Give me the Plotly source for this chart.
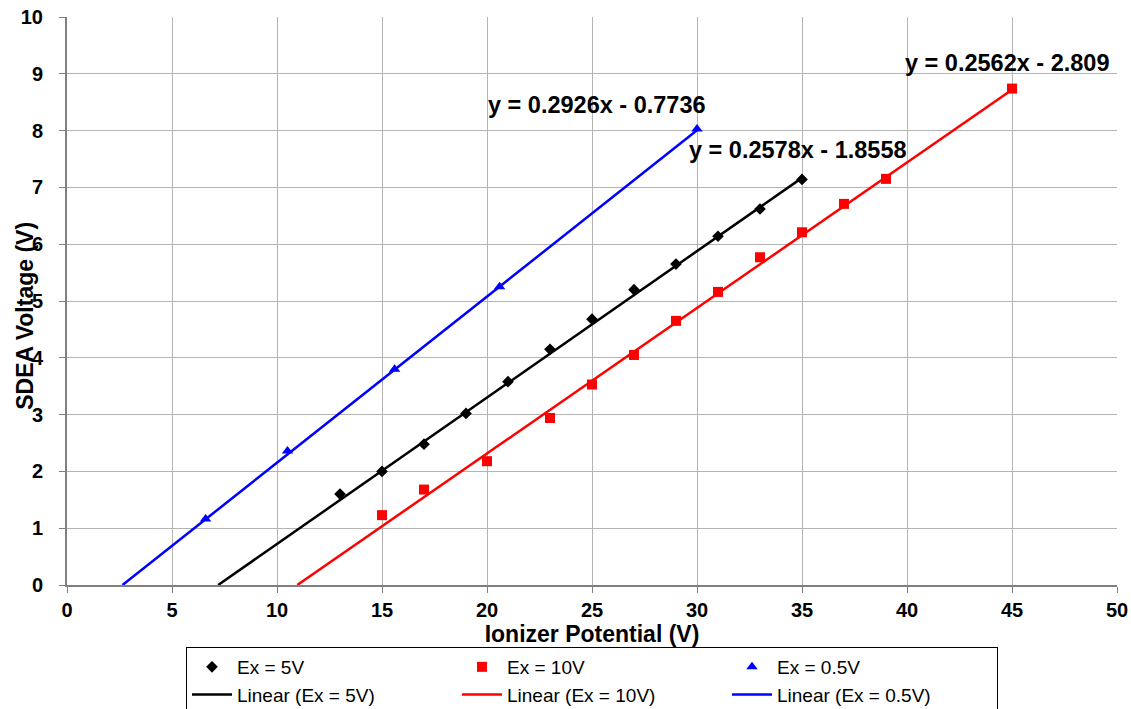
import plotly.graph_objects as go

# Data
x_5v = [13, 15, 17, 19, 21, 23, 25, 27, 29, 31, 33, 35]
y_5v = [1.6, 2.0, 2.48, 3.02, 3.58, 4.15, 4.68, 5.2, 5.65, 6.14, 6.62, 7.14]

x_10v = [15, 17, 20, 23, 25, 27, 29, 31, 33, 35, 37, 39, 45]
y_10v = [1.23, 1.68, 2.18, 2.94, 3.53, 4.05, 4.65, 5.16, 5.77, 6.21, 6.71, 7.15, 8.74]

x_05v = [6.6, 10.5, 15.6, 20.6, 30.0]
y_05v = [1.16, 2.36, 3.8, 5.25, 8.03]

# Trendline coefficients (as printed)
fit_5v = (0.2578, -1.8558)
fit_10v = (0.2562, -2.809)
fit_05v = (0.2926, -0.7736)

eq_labels = ["y = 0.2926x - 0.7736", "y = 0.2578x - 1.8558", "y = 0.2562x - 2.809"]

FONT = "Liberation Sans, Arial, sans-serif"


def trend(fit, xmax):
    m, b = fit
    x0 = -b / m
    return [x0, xmax], [m * x0 + b, m * xmax + b]


fig = go.Figure()
fig.add_trace(go.Scatter(x=x_5v, y=y_5v, mode="markers", name="Ex = 5V",
                         marker=dict(symbol="diamond", size=9, color="black")))
fig.add_trace(go.Scatter(x=x_10v, y=y_10v, mode="markers", name="Ex = 10V",
                         marker=dict(symbol="square", size=10, color="#ff0000")))
fig.add_trace(go.Scatter(x=x_05v, y=y_05v, mode="markers", name="Ex = 0.5V",
                         marker=dict(symbol="triangle-up", size=10, color="#0000ff")))

tx, ty = trend(fit_5v, max(x_5v))
fig.add_trace(go.Scatter(x=tx, y=ty, mode="lines", name="Linear (Ex = 5V)",
                         line=dict(color="black", width=2.5)))
tx, ty = trend(fit_10v, max(x_10v))
fig.add_trace(go.Scatter(x=tx, y=ty, mode="lines", name="Linear (Ex = 10V)",
                         line=dict(color="#ff0000", width=2.5)))
tx, ty = trend(fit_05v, max(x_05v))
fig.add_trace(go.Scatter(x=tx, y=ty, mode="lines", name="Linear (Ex = 0.5V)",
                         line=dict(color="#0000ff", width=2.5)))

ann_pos = [(25.24, 8.45), (34.8, 7.66), (44.8, 9.19)]
for txt, (ax, ay) in zip(eq_labels, ann_pos):
    fig.add_annotation(x=ax, y=ay, text=txt, showarrow=False,
                       font=dict(family=FONT, size=23.5, color="black", weight="bold"))

# y-axis title (placed to overlap tick labels as in the original)
fig.add_annotation(xref="paper", yref="paper", x=0, y=0.474, xshift=-42,
                   xanchor="center", yanchor="middle",
                   text="SDEA Voltage (V)", textangle=-90, showarrow=False,
                   font=dict(family=FONT, size=23, color="black", weight="bold"))

fig.update_layout(
    width=1131, height=709,
    margin=dict(l=67, r=14, t=17, b=124, autoexpand=False),
    plot_bgcolor="white", paper_bgcolor="white",
    font=dict(family=FONT, color="black"),
    showlegend=True,
    legend=dict(orientation="h", x=0.5, xanchor="center", yref="container",
                y=1 - 647 / 709, yanchor="top",
                bordercolor="black", borderwidth=1, bgcolor="white",
                font=dict(family=FONT, size=19, color="black"),
                entrywidth=215, tracegroupgap=0, itemwidth=40),
)
fig.update_xaxes(range=[0, 50], dtick=5, tick0=0,
                 showgrid=True, gridcolor="#b4b4b4", gridwidth=1,
                 showline=True, linecolor="#808080", linewidth=2,
                 ticks="outside", ticklen=6, tickcolor="#808080",
                 zeroline=False,
                 tickfont=dict(family=FONT, size=20, color="black", weight="bold"),
                 title=dict(text="Ionizer Potential (V)", standoff=6,
                            font=dict(family=FONT, size=23, color="black", weight="bold")))
fig.update_yaxes(range=[0, 10], dtick=1, tick0=0,
                 showgrid=True, gridcolor="#b4b4b4", gridwidth=1,
                 showline=True, linecolor="#808080", linewidth=2,
                 ticks="outside", ticklen=6, tickcolor="#808080",
                 zeroline=False, ticklabelstandoff=12,
                 tickfont=dict(family=FONT, size=20, color="black", weight="bold"))

fig.write_html("out.html")
